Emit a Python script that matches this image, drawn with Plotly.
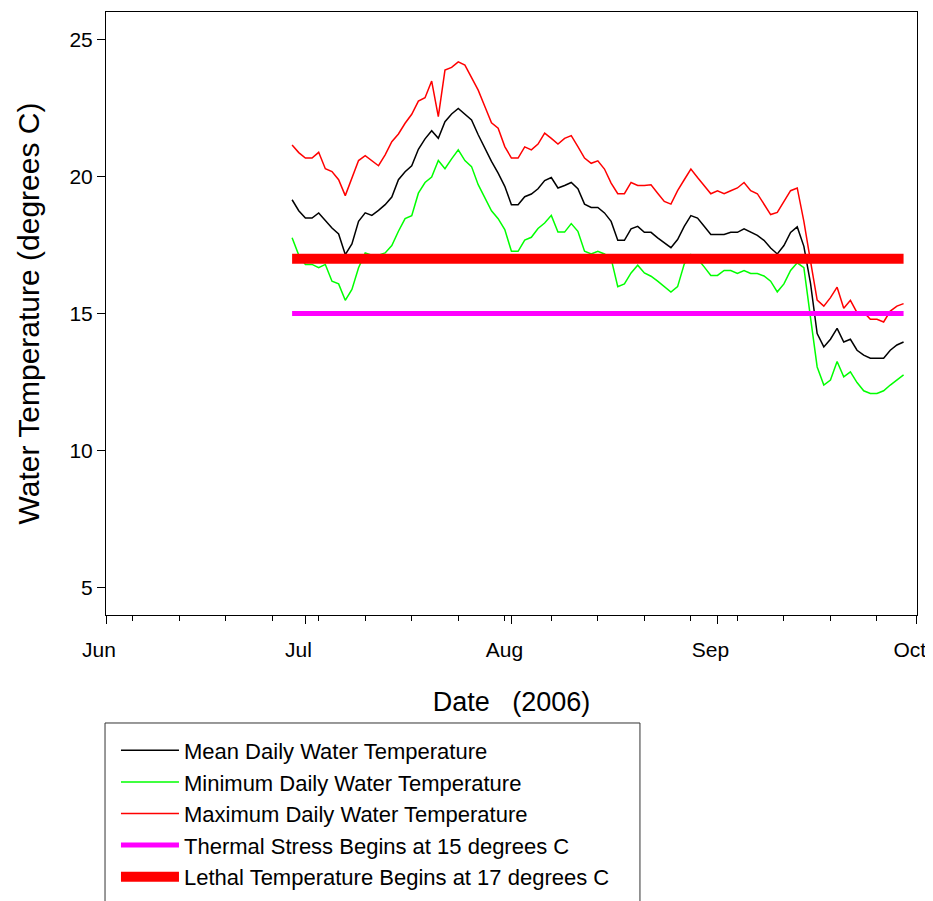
import pandas as pd
import plotly.graph_objects as go

# ---------------- data ----------------
start_date = "2006-06-29"
end_date = "2006-09-29"
dates = pd.date_range(start_date, end_date, freq="D")

mean_temp = [
    19.15, 18.75,
    18.48, 18.48, 18.67, 18.39, 18.12, 17.90, 17.15, 17.54, 18.36, 18.67,
    18.58, 18.76, 18.97, 19.25, 19.88, 20.17, 20.39, 20.99, 21.37, 21.67,
    21.39, 22.00, 22.28, 22.48, 22.28, 22.06, 21.52, 21.03, 20.55, 20.12, 19.64,
    18.97, 18.97, 19.26, 19.36, 19.55, 19.85, 19.96, 19.58, 19.67, 19.78,
    19.55, 18.99, 18.87, 18.87, 18.67, 18.36, 17.67, 17.67, 18.09, 18.18,
    17.96, 17.96, 17.76, 17.58, 17.40, 17.70, 18.18, 18.57, 18.48, 18.18, 17.88,
    17.88, 17.88, 17.96, 17.96, 18.09, 17.96, 17.85, 17.67, 17.39, 17.17,
    17.48, 17.96, 18.16, 17.45, 16.10, 14.27, 13.78, 14.06, 14.46, 13.96,
    14.06, 13.66, 13.48, 13.37, 13.37, 13.37, 13.66, 13.85, 13.96,
]

min_temp = [
    17.76, 17.13,
    16.79, 16.79, 16.67, 16.79, 16.18, 16.08, 15.48, 15.88, 16.67, 17.21,
    17.13, 17.13, 17.21, 17.48, 18.00, 18.46, 18.57, 19.39, 19.78, 19.98,
    20.58, 20.28, 20.64, 20.97, 20.58, 20.36, 19.70, 19.21, 18.75, 18.46, 18.06,
    17.27, 17.27, 17.68, 17.78, 18.10, 18.30, 18.58, 17.97, 17.97, 18.28,
    18.00, 17.27, 17.17, 17.27, 17.17, 17.00, 15.98, 16.08, 16.48, 16.76,
    16.48, 16.36, 16.18, 15.98, 15.78, 15.98, 16.80, 17.15, 17.00, 16.70, 16.39,
    16.39, 16.57, 16.57, 16.46, 16.57, 16.46, 16.46, 16.37, 16.18, 15.79,
    16.08, 16.57, 16.85, 16.67, 14.85, 13.05, 12.39, 12.57, 13.25, 12.69,
    12.87, 12.48, 12.18, 12.08, 12.08, 12.18, 12.39, 12.57, 12.76,
]

max_temp = [
    21.15, 20.87,
    20.67, 20.67, 20.88, 20.28, 20.18, 19.88, 19.30, 19.92, 20.58, 20.76,
    20.58, 20.39, 20.79, 21.27, 21.55, 21.94, 22.27, 22.75, 22.87, 23.48,
    22.18, 23.88, 23.98, 24.18, 24.06, 23.58, 23.15, 22.55, 21.96, 21.76, 21.09,
    20.67, 20.67, 21.08, 20.97, 21.18, 21.58, 21.39, 21.18, 21.39, 21.49,
    21.09, 20.67, 20.48, 20.57, 20.27, 19.76, 19.37, 19.37, 19.78, 19.67,
    19.67, 19.70, 19.39, 19.09, 18.99, 19.48, 19.88, 20.27, 19.96, 19.67, 19.37,
    19.48, 19.37, 19.48, 19.58, 19.78, 19.48, 19.37, 18.97, 18.61, 18.69,
    19.09, 19.48, 19.58, 18.36, 16.91, 15.49, 15.27, 15.58, 15.96, 15.19,
    15.48, 15.03, 15.05, 14.79, 14.79, 14.69, 15.09, 15.27, 15.36,
]

threshold_dates = [start_date, end_date]
thermal_stress = [15, 15]
lethal_temp = [17, 17]

series_names = [
    "Mean Daily Water Temperature",
    "Minimum Daily Water Temperature",
    "Maximum Daily Water Temperature",
    "Thermal Stress Begins at 15 degrees C",
    "Lethal Temperature Begins at 17 degrees C",
]

y_ticks = [5, 10, 15, 20, 25]
x_range = ["2006-06-01", "2006-10-01 00:30"]
y_range = [4, 26]

FONT = "Liberation Sans, Arial, sans-serif"

# ---------------- figure ----------------
fig = go.Figure()
fig.add_trace(go.Scatter(x=dates, y=mean_temp, mode="lines", name=series_names[0],
                         line=dict(color="#000000", width=1.5)))
fig.add_trace(go.Scatter(x=dates, y=min_temp, mode="lines", name=series_names[1],
                         line=dict(color="#00ff00", width=1.5)))
fig.add_trace(go.Scatter(x=dates, y=max_temp, mode="lines", name=series_names[2],
                         line=dict(color="#ff0000", width=1.5)))
fig.add_trace(go.Scatter(x=threshold_dates, y=thermal_stress, mode="lines", name=series_names[3],
                         line=dict(color="#ff00ff", width=5)))
fig.add_trace(go.Scatter(x=threshold_dates, y=lethal_temp, mode="lines", name=series_names[4],
                         line=dict(color="#ff0000", width=10)))

# legend frame (extends past the bottom of the page, as in the reference)
fig.add_shape(type="rect", xref="paper", yref="paper",
              x0=-0.0012, x1=0.6584, y0=-0.481, y1=-0.1791,
              line=dict(color="#333333", width=1), fillcolor="rgba(0,0,0,0)", layer="above")

fig.update_layout(
    width=925, height=893,
    margin=dict(l=98, r=16, t=4, b=286, autoexpand=False),
    paper_bgcolor="white", plot_bgcolor="white",
    font=dict(family=FONT, color="black", size=21),
    showlegend=True,
    legend=dict(
        x=0.0123, y=-0.1899, xanchor="left", yanchor="top",
        bgcolor="rgba(0,0,0,0)", borderwidth=0,
        font=dict(family=FONT, size=22, color="black"),
        traceorder="normal", itemwidth=58,
    ),
)

fig.update_xaxes(
    type="date", range=x_range, automargin=False,
    dtick="M1", tick0="2006-06-01", tickformat="%b",
    ticks="outside", ticklen=8, tickwidth=1, tickcolor="black",
    minor=dict(ticks="outside", ticklen=5, tickwidth=1, tickcolor="black",
               dtick=7 * 86400000, tick0="2006-06-05"),
    showline=True, linecolor="black", linewidth=1, mirror=True,
    showgrid=False, zeroline=False,
    tickfont=dict(family=FONT, size=21, color="black"),
    ticklabelstandoff=8, ticklabelshift=-7, ticklabeloverflow="allow",
    title=dict(text="Date   (2006)", font=dict(family=FONT, size=27, color="black"), standoff=31),
)
fig.update_yaxes(
    range=y_range, tickvals=y_ticks, automargin=False,
    ticks="outside", ticklen=8, tickwidth=1, tickcolor="black",
    showline=True, linecolor="black", linewidth=1, mirror=True,
    showgrid=False, zeroline=False,
    tickfont=dict(family=FONT, size=21, color="black"),
    title=dict(text="Water Temperature (degrees C)", font=dict(family=FONT, size=30, color="black"), standoff=20),
)

fig.write_html("out.html")
